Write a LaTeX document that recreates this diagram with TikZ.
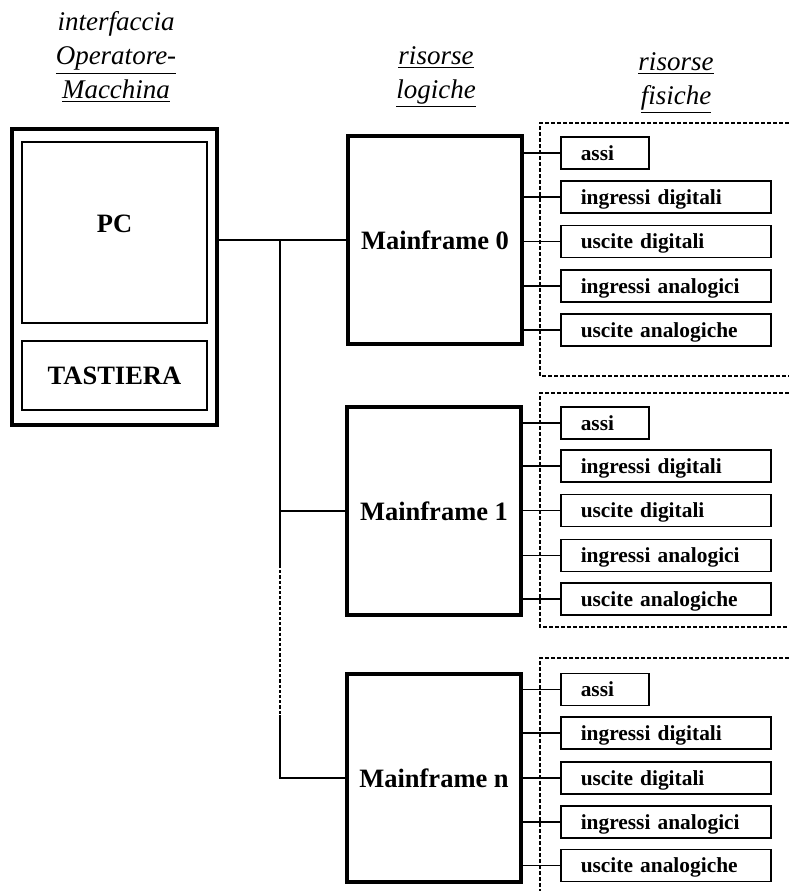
\documentclass[tikz,border=0pt]{standalone}
\usepackage{fontspec}
\setmainfont{Liberation Serif}
\usepackage{tikz}
\tikzset{
        head/.style={align=center, inner sep=0pt, font=\fontsize{13.5}{17}\selectfont\itshape},
        console/.style={draw, line width=1.6pt, minimum width=102.5pt, minimum height=148pt},
        unit/.style={draw, line width=0.65pt, minimum width=92.5pt, font=\fontsize{13.25}{16}\selectfont\bfseries},
        mainframe/.style={draw, line width=1.6pt, minimum width=87pt, minimum height=104pt, font=\fontsize{13.25}{16}\selectfont\bfseries},
        res/.style={draw, line width=0.75pt, anchor=west, align=left, text width=85pt, inner xsep=10pt, inner ysep=3pt, text height=8.5pt, text depth=1.5pt, font=\fontsize{10.7}{13}\selectfont\bfseries},
        bus/.style={line width=1pt},
        dotbus/.style={line width=1.4pt, dash pattern=on 1.6pt off 1pt},
        link/.style={line width=0.7pt},
        group/.style={line width=0.6pt, dash pattern=on 2pt off 1pt}
}

\begin{document}
\begin{tikzpicture}[x=0.5pt, y=-0.5pt]
        \useasboundingbox (0,0) rectangle (789,891);
        % intestazioni
        \node[head] (hconsole) at (116,57) {interfaccia\\\underline{Operatore-}\\\underline{Macchina}};
        \node[head] (hlogic) at (436,77) {\underline{risorse}\\\underline{logiche}};
        \node[head] (hphys) at (676,83) {\underline{risorse}\\\underline{fisiche}};
        % console
        \node[console] (console) at (114.5,277) {};
        \node[unit, minimum height=90.5pt, text height=9pt, text depth=9pt] (pc) at (114.5,232.5) {PC};
        \node[unit, minimum height=34.5pt] (tastiera) at (114.5,375.5) {TASTIERA};
        % mainframe
        \node[mainframe] (mf0) at (435,240) {Mainframe 0};
        \node[mainframe] (mf1) at (434,511) {Mainframe 1};
        \node[mainframe] (mfn) at (434,778) {Mainframe n};
        % bus
        \coordinate (busa) at (280,240);
        \coordinate (busb) at (280,565);
        \coordinate (busc) at (280,715);
        \draw[bus] (console.east |- mf0.west) -- (mf0.west);
        \draw[bus] (busa) -- (busb);
        \draw[dotbus] (busb) -- (busc);
        \draw[bus] (busc) |- (mfn.west);
        \draw[bus] (busa |- mf1.west) -- (mf1.west);
        % mainframe 0
        \draw[group] (789,123) -| (540,376) -- (789,376);
        \node[res, text width=24pt] (m0assi) at (560,153) {assi};
        \node[res] (m0indig) at (560,197) {ingressi digitali};
        \node[res] (m0usdig) at (560,241.5) {uscite digitali};
        \node[res] (m0inan) at (560,286) {ingressi analogici};
        \node[res] (m0usan) at (560,330) {uscite analogiche};
        \draw[link] (mf0.east |- m0assi.west) -- (m0assi.west);
        \draw[link] (mf0.east |- m0indig.west) -- (m0indig.west);
        \draw[link] (mf0.east |- m0usdig.west) -- (m0usdig.west);
        \draw[link] (mf0.east |- m0inan.west) -- (m0inan.west);
        \draw[link] (mf0.east |- m0usan.west) -- (m0usan.west);
        % mainframe 1
        \draw[group] (789,393) -| (540,627) -- (789,627);
        \node[res, text width=24pt] (m1assi) at (560,423) {assi};
        \node[res] (m1indig) at (560,466) {ingressi digitali};
        \node[res] (m1usdig) at (560,510.5) {uscite digitali};
        \node[res] (m1inan) at (560,555.5) {ingressi analogici};
        \node[res] (m1usan) at (560,599) {uscite analogiche};
        \draw[link] (mf1.east |- m1assi.west) -- (m1assi.west);
        \draw[link] (mf1.east |- m1indig.west) -- (m1indig.west);
        \draw[link] (mf1.east |- m1usdig.west) -- (m1usdig.west);
        \draw[link] (mf1.east |- m1inan.west) -- (m1inan.west);
        \draw[link] (mf1.east |- m1usan.west) -- (m1usan.west);
        % mainframe n
        \draw[group] (789,658) -| (540,891);
        \node[res, text width=24pt] (mnassi) at (560,689.5) {assi};
        \node[res] (mnindig) at (560,733) {ingressi digitali};
        \node[res] (mnusdig) at (560,778) {uscite digitali};
        \node[res] (mninan) at (560,822) {ingressi analogici};
        \node[res] (mnusan) at (560,865.5) {uscite analogiche};
        \draw[link] (mfn.east |- mnassi.west) -- (mnassi.west);
        \draw[link] (mfn.east |- mnindig.west) -- (mnindig.west);
        \draw[link] (mfn.east |- mnusdig.west) -- (mnusdig.west);
        \draw[link] (mfn.east |- mninan.west) -- (mninan.west);
        \draw[link] (mfn.east |- mnusan.west) -- (mnusan.west);
\end{tikzpicture}
\end{document}
